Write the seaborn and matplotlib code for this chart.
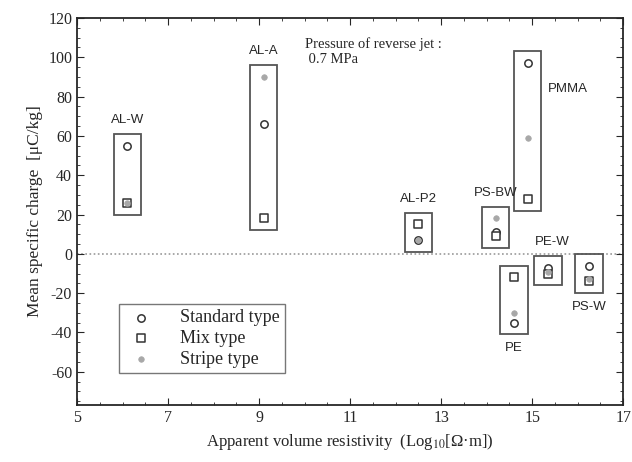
import matplotlib
matplotlib.use("Agg")
import matplotlib.pyplot as plt
from matplotlib.patches import Rectangle
from matplotlib.ticker import MultipleLocator
import pandas as pd
import seaborn as sns

# data
groups = ['AL-W', 'AL-A', 'AL-P2', 'PS-BW', 'PMMA', 'PE', 'PE-W', 'PS-W']
resistivity = [6.1, 9.1, 12.5, 14.2, 14.9, 14.6, 15.35, 16.25]
standard = [55, 66, 7, 11, 97, -35, -7, -6]
mix = [26, 18, 15, 9, 28, -12, -10, -14]
stripe = [26, 90, 7, 18, 59, -30, -9, -13]

types = ['Standard type', 'Mix type', 'Stripe type']
x_ticks = [5, 7, 9, 11, 13, 15, 17]
y_ticks = [-60, -40, -20, 0, 20, 40, 60, 80, 100, 120]

# label placement (offsets from box, in data units)
label_pos = {
    'AL-W': ('top', 0, 4), 'AL-A': ('top', 0, 4), 'AL-P2': ('top', 0, 4),
    'PS-BW': ('top', 0, 4), 'PMMA': ('right', 1.1, 0), 'PE': ('bottom', 0, -4),
    'PE-W': ('top', 0.1, 4), 'PS-W': ('bottom', 0, -4),
}

rows = []
for g, x, s, m, st in zip(groups, resistivity, standard, mix, stripe):
    rows.append((g, x, 'Standard type', s))
    rows.append((g, x, 'Mix type', m))
    rows.append((g, x, 'Stripe type', st))
df = pd.DataFrame(rows, columns=['group', 'x', 'type', 'value'])

sns.set_style('ticks')
plt.rcParams['font.family'] = ['Liberation Serif', 'DejaVu Serif']
plt.rcParams['mathtext.fontset'] = 'stix'
plt.rcParams['axes.unicode_minus'] = False

fig = plt.figure(figsize=(6.32, 4.62), dpi=100)
ax = fig.add_axes([0.122, 0.123, 0.864, 0.838])

ax.axhline(0, color='#999999', ls=(0, (1, 1.5)), lw=1.2, zorder=0)

# boxes round each material
for g, x, s, m, st in zip(groups, resistivity, standard, mix, stripe):
    lo, hi = min(s, m, st), max(s, m, st)
    bx0, bx1 = x - 0.3, x + 0.3
    by0, by1 = lo - 6, hi + 6
    ax.add_patch(Rectangle((bx0, by0), bx1 - bx0, by1 - by0, fill=False,
                           ec='#555555', lw=1.3, zorder=1))
    side, dx, dy = label_pos[g]
    if side == 'top':
        ax.text(x + dx, by1 + dy, g, ha='center', va='bottom',
                family='Liberation Sans', fontsize=9.5)
    elif side == 'bottom':
        ax.text(x + dx, by0 + dy, g, ha='center', va='top',
                family='Liberation Sans', fontsize=9.5)
    else:
        ax.text(bx1 + 0.15, hi - 13, g, ha='left', va='center',
                family='Liberation Sans', fontsize=9.5)

sub = df[df['type'] == 'Standard type']
sns.scatterplot(data=sub, x='x', y='value', marker='o', s=28, color='white',
                edgecolor='#333333', linewidth=1.1, label='Standard type',
                ax=ax, zorder=3)
sub = df[df['type'] == 'Mix type']
sns.scatterplot(data=sub, x='x', y='value', marker='s', s=26, color='white',
                edgecolor='#333333', linewidth=1.1, label='Mix type',
                ax=ax, zorder=3)
sub = df[df['type'] == 'Stripe type']
sns.scatterplot(data=sub, x='x', y='value', marker='o', s=16, color='#a8a8a8',
                edgecolor='#a8a8a8', linewidth=0.5, label='Stripe type',
                ax=ax, zorder=4)

ax.set_xlim(5, 17)
ax.set_ylim(-77, 120)
ax.set_xticks(x_ticks)
ax.set_yticks(y_ticks)
ax.xaxis.set_minor_locator(MultipleLocator(0.5))
ax.yaxis.set_minor_locator(MultipleLocator(5))
ax.tick_params(which='both', direction='in', top=True, right=True, labelsize=11.5)
ax.tick_params(which='major', length=5)
ax.tick_params(which='minor', length=2.5)
for sp in ax.spines.values():
    sp.set_linewidth(1.3)

ax.set_xlabel('Apparent volume resistivity  (Log$_{10}$[Ω·m])', fontsize=12)
ax.set_ylabel('Mean specific charge  [μC/kg]', fontsize=12.5)

ax.text(10.0, 110, 'Pressure of reverse jet :\n 0.7 MPa', fontsize=10.5,
        va='top', ha='left', linespacing=1.2)

leg = ax.legend(loc='lower left', bbox_to_anchor=(0.06, 0.06),
                fontsize=13, frameon=True, fancybox=False, edgecolor='#555555',
                handletextpad=1.3, borderpad=0.3, labelspacing=0.2,
                handlelength=1.8)
leg.get_frame().set_linewidth(1.0)

fig.savefig('out.png', dpi=100)
